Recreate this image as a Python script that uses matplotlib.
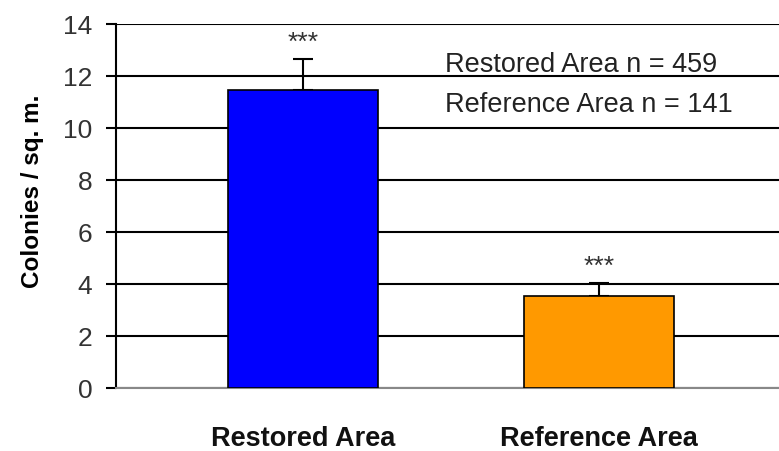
import matplotlib.pyplot as plt
import numpy as np

plt.rcParams['font.family'] = ['Liberation Sans', 'DejaVu Sans']

areas = ['Restored Area', 'Reference Area']
colonies = [11.45, 3.54]
errors = [1.22, 0.5]
bar_colors = ['#0000FF', '#FF9900']
sig_marks = ['***', '***']
n_labels = ['Restored Area n = 459', 'Reference Area n = 141']

W, H = 779, 451
fig = plt.figure(figsize=(W / 100, H / 100), dpi=100)
ax = fig.add_axes([116 / W, (H - 388) / H, (W - 116) / W, (388 - 24) / H])

x = np.arange(len(areas))
ax.bar(x, colonies, width=0.507, color=bar_colors, edgecolor='black',
       linewidth=1.2, zorder=3)
ax.errorbar(x, colonies, yerr=[np.zeros(len(errors)), errors], fmt='none',
            ecolor='black', elinewidth=1.5, capsize=7, capthick=1.5, zorder=2)

for xi, top, mark in zip(x, np.array(colonies) + np.array(errors), sig_marks):
    ax.text(xi, top + 0.62, mark, ha='center', va='center', fontsize=19,
            color='#333333')

ax.text(0.48, 12.15, n_labels[0], ha='left', va='baseline', fontsize=19.5,
        color='#222222', zorder=4)
ax.text(0.48, 10.6, n_labels[1], ha='left', va='baseline', fontsize=19.5,
        color='#222222', zorder=4)

ax.set_ylim(0, 14)
ax.set_yticks(range(0, 15, 2))
ax.set_xlim(-0.632, 1.608)
ax.set_xticks(x)
ax.set_xticklabels(areas, fontsize=19.5, fontweight='bold', color='#111111')
ax.tick_params(axis='x', length=0, pad=27)
ax.tick_params(axis='y', length=7, width=1.5, labelsize=19,
               labelcolor='#333333', pad=10)

ax.grid(axis='y', color='black', linewidth=1.5, zorder=0)
ax.set_axisbelow(True)
for side in ['top', 'right']:
    ax.spines[side].set_visible(False)
ax.spines['left'].set_linewidth(1.5)
ax.spines['bottom'].set_color('#888888')
ax.spines['bottom'].set_linewidth(1.5)

ax.set_ylabel('Colonies / sq. m.', fontsize=17.5, fontweight='bold')
ax.yaxis.set_label_coords(-0.108, 0.54)

fig.savefig('out.png', dpi=100)
